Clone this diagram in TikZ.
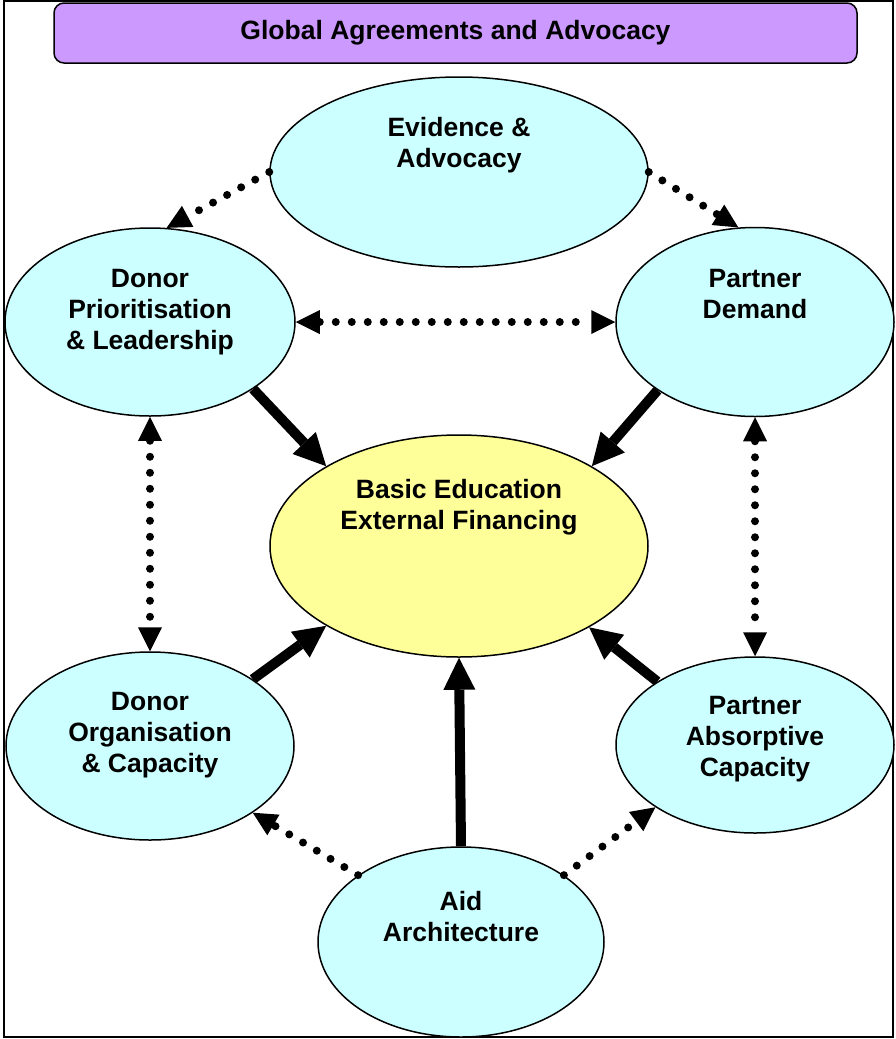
\documentclass[tikz,border=0pt]{standalone}
\usepackage{fontspec}
\setmainfont{Liberation Sans}
\usepackage{xcolor}
\usetikzlibrary{positioning,arrows.meta,shapes.geometric}

\definecolor{boxpurple}{RGB}{204,153,255}
\definecolor{ellcyan}{RGB}{204,255,255}
\definecolor{ellyellow}{RGB}{255,255,153}

\begin{document}
\begin{tikzpicture}[x=1pt,y=-1pt,
    font=\fontsize{26.5}{31}\selectfont\bfseries,
    blob/.style={ellipse,draw,line width=1.5pt,fill=ellcyan,inner sep=0pt},
    txt/.style={align=center,inner sep=0pt},
    dotlink/.style={line width=8pt,line cap=round,dash pattern=on 0pt off 16pt},
    tipdot/.tip={Triangle[length=24pt,width=24pt,line width=0pt]},
    bigarrow/.style={line width=10pt,-{Triangle[length=32pt,width=32pt,line width=0pt]}}]
    \useasboundingbox (0,0) rectangle (895,1039);

    % Frame and title bar
    \draw[line width=2pt] (4,1) rectangle (893,1037);
    \node[draw,line width=1.5pt,fill=boxpurple,rounded corners=10pt,
          minimum width=803pt,minimum height=60pt] (title) at (455.5,33)
          {Global Agreements and Advocacy};

    % Ellipses
    \node[blob,minimum width=378pt,minimum height=190pt] (ev) at (459,172) {};
    \node[blob,minimum width=290pt,minimum height=188pt] (dp) at (150,322) {};
    \node[blob,minimum width=278pt,minimum height=189pt] (pd) at (755,322) {};
    \node[blob,fill=ellyellow,minimum width=378pt,minimum height=222pt] (core) at (459,546) {};
    \node[blob,minimum width=288pt,minimum height=188pt] (do) at (150,746) {};
    \node[blob,minimum width=278pt,minimum height=176pt] (pa) at (755,745) {};
    \node[blob,minimum width=286pt,minimum height=190pt] (aid) at (461,942) {};

    % Texts
    \node[txt,below=41pt of ev.north] (evt) {Evidence \&\\Advocacy};
    \node[txt,below=42pt of dp.north] (dpt) {Donor\\Prioritisation\\\& Leadership};
    \node[txt,below=42pt of pd.north] (pdt) {Partner\\Demand};
    \node[txt,below=45pt of core.north] (coret) {Basic Education\\External Financing};
    \node[txt,below=41pt of do.north] (dot) {Donor\\Organisation\\\& Capacity};
    \node[txt,below=40pt of pa.north] (pat) {Partner\\Absorptive\\Capacity};
    \node[txt,below=45pt of aid.north] (aidt) {Aid\\Architecture};

    % Dotted links
    \draw[dotlink,-tipdot] (ev.west) -- (dp.80);
    \draw[dotlink,-tipdot] (ev.east) -- (pd.100);
    \draw[dotlink,tipdot-tipdot] (dp.east) -- (pd.west);
    \draw[dotlink,tipdot-tipdot] (dp.south) -- (do.north);
    \draw[dotlink,tipdot-tipdot] (pd.south) -- (pa.north);
    \draw[dotlink,-tipdot] (aid.147) -- (do.-33);
    \draw[dotlink,-tipdot] (aid.33) -- (pa.212);

    % Thick arrows into the centre
    \draw[bigarrow] (dp.-33) -- (core.149);
    \draw[bigarrow] (pd.215) -- (core.31);
    \draw[bigarrow] (do.33) -- (core.211);
    \draw[bigarrow] (pa.147) -- (core.-32);
    \draw[bigarrow] (aid.north) -- (core.south);
\end{tikzpicture}
\end{document}
